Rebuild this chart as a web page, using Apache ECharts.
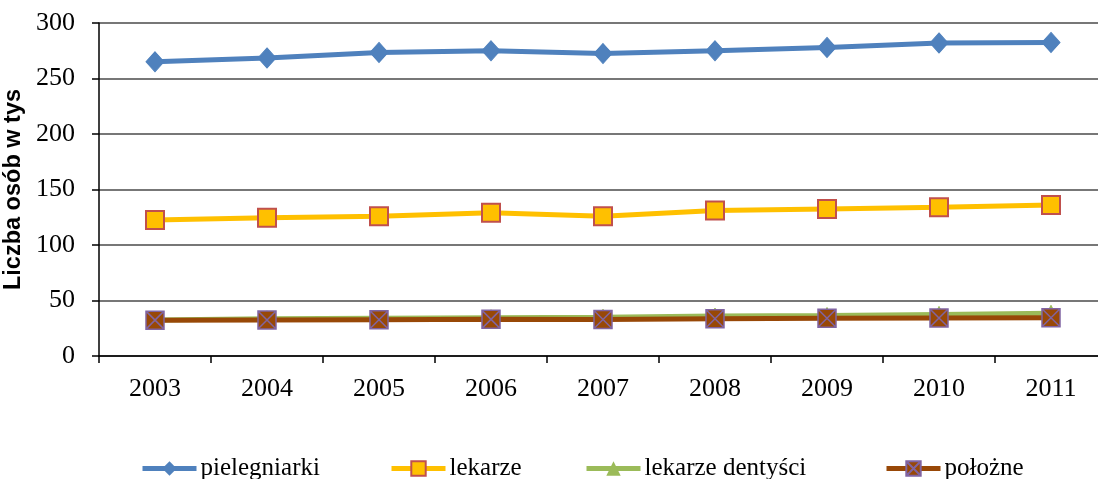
<!DOCTYPE html>
<html>
<head>
<meta charset="utf-8">
<script src="https://cdn.jsdelivr.net/npm/echarts@6/dist/echarts.min.js"></script>
<style>
  html, body { margin: 0; padding: 0; background: #fff; }
  #chart { width: 1098px; height: 479px; }
</style>
</head>
<body>
<div id="chart"></div>
<script>
// lata
const years = ['2003', '2004', '2005', '2006', '2007', '2008', '2009', '2010', '2011']

// liczba osób w tys.
const pielegniarki = [265, 268.5, 273.5, 275, 272.5, 275, 278, 282, 282.5]
const lekarze = [122.5, 124.5, 126, 129, 126, 131, 132.5, 134, 136]
const dentysci = [32.5, 33.5, 34, 34.5, 35, 36, 36.5, 37.5, 38.5]
const polozne = [32.3, 32.5, 32.7, 33, 32.8, 33.5, 34, 34.2, 34.5]

const serif = '"Liberation Serif", "DejaVu Serif", serif'
const xMark = 'path://M0,0H10V10H0Z M0,0L10,10 M10,0L0,10'

const chart = echarts.init(document.getElementById('chart'))

function legendAt(name, left) {
  return {
    data: [name],
    left: left,
    top: 456,
    padding: 0,
    itemWidth: 54,
    itemHeight: 18,
    itemGap: 4,
    lineStyle: { width: 5 },
    textStyle: { fontFamily: serif, fontSize: 25, color: '#000', padding: [0, 0, 0, -1] },
    selectedMode: false
  }
}

const option = {
  animation: false,
  grid: { left: 99, right: -9, top: 23, bottom: 123, containLabel: false, outerBoundsMode: 'none' },
  legend: [
    legendAt('pielegniarki', 140),
    legendAt('lekarze', 389),
    legendAt('lekarze dentyści', 584),
    legendAt('położne', 884)
  ],
  xAxis: {
    type: 'category',
    data: years,
    boundaryGap: true,
    axisLine: { lineStyle: { color: '#000', width: 1.5 } },
    axisTick: { show: true, length: 7, lineStyle: { color: '#000', width: 1.5 } },
    axisLabel: { fontFamily: serif, fontSize: 26, color: '#000', margin: 20 }
  },
  yAxis: {
    type: 'value',
    min: 0,
    max: 300,
    interval: 50,
    name: 'Liczba osób w tys',
    nameLocation: 'middle',
    nameGap: 64,
    nameTextStyle: { fontFamily: '"Liberation Sans", Arial, sans-serif', fontSize: 23.5, fontWeight: 'bold', color: '#000' },
    axisLine: { show: true, lineStyle: { color: '#000', width: 1.5 } },
    axisTick: { show: true, length: 7, lineStyle: { color: '#000', width: 1.5 } },
    axisLabel: { fontFamily: serif, fontSize: 26, color: '#000', margin: 24 },
    splitLine: { lineStyle: { color: '#4a4a4a', width: 1.5 } }
  },
  series: [
    {
      name: 'pielegniarki',
      type: 'line',
      data: pielegniarki,
      symbol: 'diamond',
      symbolSize: [18, 20],
      lineStyle: { color: '#4F81BD', width: 5 },
      itemStyle: { color: '#4F81BD', borderColor: '#4F81BD' },
      z: 4
    },
    {
      name: 'lekarze',
      type: 'line',
      data: lekarze,
      symbol: 'rect',
      symbolSize: 18,
      lineStyle: { color: '#FFC000', width: 5 },
      itemStyle: { color: '#FFC000', borderColor: '#C0504D', borderWidth: 2 },
      z: 3
    },
    {
      name: 'lekarze dentyści',
      type: 'line',
      data: dentysci,
      symbol: 'triangle',
      symbolSize: 16,
      lineStyle: { color: '#9BBB59', width: 5 },
      itemStyle: { color: '#9BBB59', borderColor: '#9BBB59' },
      z: 2
    },
    {
      name: 'położne',
      type: 'line',
      data: polozne,
      symbol: xMark,
      symbolSize: 18,
      lineStyle: { color: '#984807', width: 5 },
      itemStyle: { color: '#984807', borderColor: '#8064A2', borderWidth: 1.5 },
      z: 5
    }
  ]
}

chart.setOption(option)
</script>
</body>
</html>
